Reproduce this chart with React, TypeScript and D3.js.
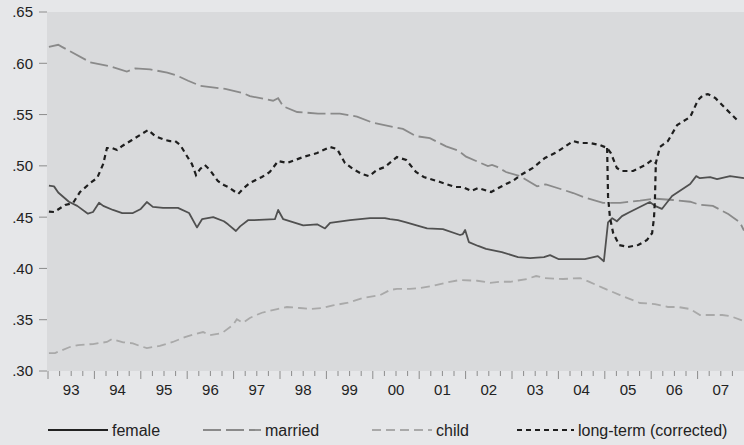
import React from "react";
import * as d3 from "d3";

const W = 744;
const H = 445;

const yTicks = [0.3, 0.35, 0.4, 0.45, 0.5, 0.55, 0.6, 0.65];
const yTickLabels = [".30", ".35", ".40", ".45", ".50", ".55", ".60", ".65"];
const years = [1993, 1994, 1995, 1996, 1997, 1998, 1999, 2000, 2001, 2002, 2003, 2004, 2005, 2006, 2007];
const yearLabels = ["93", "94", "95", "96", "97", "98", "99", "00", "01", "02", "03", "04", "05", "06", "07"];

const female: [number, number][] = [
  [1993.02, 0.4807], [1993.13, 0.48], [1993.22, 0.474], [1993.45, 0.465], [1993.63, 0.461],
  [1993.86, 0.4534], [1993.97, 0.455], [1994.1, 0.464], [1994.19, 0.461], [1994.4, 0.457],
  [1994.6, 0.454], [1994.83, 0.454], [1995.0, 0.458], [1995.13, 0.4647], [1995.26, 0.46],
  [1995.48, 0.459], [1995.8, 0.459], [1996.04, 0.454], [1996.21, 0.44], [1996.32, 0.448],
  [1996.56, 0.45], [1996.79, 0.446], [1996.88, 0.443], [1997.05, 0.4365], [1997.14, 0.441],
  [1997.31, 0.447], [1997.42, 0.447], [1997.89, 0.448], [1997.96, 0.457], [1998.07, 0.448],
  [1998.5, 0.442], [1998.8, 0.443], [1998.97, 0.439], [1999.08, 0.4445], [1999.51, 0.447],
  [1999.94, 0.449], [2000.26, 0.449], [2000.37, 0.448], [2000.54, 0.447], [2000.72, 0.445],
  [2001.0, 0.4413], [2001.17, 0.439], [2001.51, 0.4384], [2001.88, 0.4326], [2001.94, 0.4335],
  [2001.99, 0.4375], [2002.07, 0.4257], [2002.27, 0.4219], [2002.44, 0.419], [2002.78, 0.416],
  [2003.13, 0.411], [2003.39, 0.41], [2003.69, 0.411], [2003.82, 0.413], [2004.01, 0.409],
  [2004.38, 0.409], [2004.57, 0.409], [2004.85, 0.412], [2004.98, 0.407], [2005.07, 0.445],
  [2005.16, 0.449], [2005.26, 0.446], [2005.37, 0.451], [2005.54, 0.455], [2005.97, 0.4647],
  [2006.08, 0.461], [2006.23, 0.458], [2006.45, 0.4706], [2006.84, 0.4823], [2006.97, 0.49],
  [2007.05, 0.488], [2007.27, 0.489], [2007.42, 0.487], [2007.7, 0.49], [2008.0, 0.488],
];

const married: [number, number][] = [
  [1993.02, 0.616], [1993.22, 0.618], [1993.3, 0.616], [1993.91, 0.601], [1994.34, 0.597],
  [1994.7, 0.592], [1994.88, 0.595], [1995.2, 0.594], [1995.57, 0.591], [1995.78, 0.588],
  [1996.02, 0.583], [1996.28, 0.578], [1996.82, 0.575], [1997.2, 0.571], [1997.35, 0.568],
  [1997.85, 0.5635], [1997.96, 0.566], [1998.07, 0.558], [1998.37, 0.5525], [1998.82, 0.551],
  [1999.29, 0.551], [1999.66, 0.548], [2000.0, 0.542], [2000.44, 0.538], [2000.65, 0.536],
  [2000.93, 0.529], [2001.23, 0.527], [2001.58, 0.519], [2001.84, 0.515], [2002.01, 0.509],
  [2002.48, 0.4998], [2002.57, 0.501], [2002.68, 0.499], [2002.87, 0.494], [2003.17, 0.49],
  [2003.54, 0.48], [2003.73, 0.482], [2004.32, 0.4735], [2004.53, 0.4697], [2004.96, 0.464],
  [2005.33, 0.464], [2005.76, 0.466], [2006.08, 0.468], [2006.47, 0.4667], [2006.84, 0.465],
  [2007.05, 0.462], [2007.33, 0.461], [2007.66, 0.453], [2007.91, 0.445], [2008.0, 0.437],
];

const child: [number, number][] = [
  [1993.02, 0.3175], [1993.15, 0.3175], [1993.47, 0.3234], [1993.65, 0.3253], [1993.97, 0.3263],
  [1994.27, 0.3283], [1994.38, 0.3312], [1994.62, 0.328], [1994.83, 0.327], [1994.98, 0.3244],
  [1995.13, 0.3224], [1995.41, 0.3244], [1995.69, 0.3283], [1995.95, 0.333], [1996.17, 0.336],
  [1996.34, 0.338], [1996.49, 0.335], [1996.75, 0.337], [1996.99, 0.345], [1997.07, 0.3505],
  [1997.2, 0.347], [1997.35, 0.3517], [1997.46, 0.354], [1997.61, 0.3568], [1997.94, 0.3604],
  [1998.15, 0.3624], [1998.43, 0.3614], [1998.65, 0.3604], [1998.91, 0.3614], [1999.14, 0.364],
  [1999.44, 0.3663], [1999.79, 0.3712], [2000.16, 0.374], [2000.37, 0.379], [2000.52, 0.38],
  [2000.8, 0.38], [2001.02, 0.381], [2001.3, 0.383], [2001.66, 0.387], [2001.88, 0.3887],
  [2002.25, 0.388], [2002.53, 0.386], [2002.74, 0.387], [2002.96, 0.387], [2003.32, 0.3897],
  [2003.52, 0.3926], [2003.71, 0.3906], [2004.1, 0.3897], [2004.47, 0.3906], [2004.68, 0.3867],
  [2004.96, 0.381], [2005.33, 0.374], [2005.76, 0.3663], [2006.08, 0.3653], [2006.36, 0.3624],
  [2006.58, 0.3624], [2006.84, 0.3604], [2007.05, 0.3546], [2007.53, 0.3546], [2007.7, 0.3536],
  [2008.0, 0.3487],
];

const longTerm: [number, number][] = [
  [1993.02, 0.4553], [1993.13, 0.455], [1993.37, 0.4618], [1993.54, 0.4638], [1993.69, 0.4745],
  [1993.91, 0.4833], [1994.06, 0.4882], [1994.19, 0.5018], [1994.27, 0.5174], [1994.38, 0.5174],
  [1994.49, 0.5155], [1994.6, 0.5194], [1994.81, 0.5252], [1995.05, 0.532], [1995.16, 0.535],
  [1995.31, 0.529], [1995.52, 0.5252], [1995.63, 0.5242], [1995.74, 0.5242], [1995.85, 0.5203],
  [1996.02, 0.5077], [1996.1, 0.502], [1996.19, 0.491], [1996.28, 0.497], [1996.38, 0.5008],
  [1996.49, 0.496], [1996.66, 0.4852], [1996.79, 0.4813], [1996.88, 0.4794], [1997.1, 0.4726],
  [1997.2, 0.4775], [1997.35, 0.4833], [1997.61, 0.4891], [1997.78, 0.494], [1997.96, 0.5047],
  [1998.15, 0.5028], [1998.5, 0.5086], [1998.8, 0.5125], [1999.08, 0.5184], [1999.23, 0.5164],
  [1999.4, 0.5028], [1999.57, 0.497], [1999.77, 0.492], [1999.92, 0.49], [2000.09, 0.496],
  [2000.26, 0.4989], [2000.52, 0.5086], [2000.72, 0.5057], [2000.93, 0.494], [2001.1, 0.4891],
  [2001.45, 0.4843], [2001.77, 0.4794], [2001.94, 0.4794], [2002.12, 0.4755], [2002.27, 0.4784],
  [2002.55, 0.4745], [2002.87, 0.4823], [2003.02, 0.4852], [2003.19, 0.4911], [2003.45, 0.498],
  [2003.71, 0.5077], [2003.97, 0.5135], [2004.32, 0.5242], [2004.47, 0.5223], [2004.68, 0.5223],
  [2004.9, 0.5203], [2005.05, 0.5174], [2005.13, 0.5125], [2005.26, 0.4979], [2005.37, 0.495],
  [2005.61, 0.495], [2005.87, 0.5008], [2006.02, 0.5057], [2006.1, 0.5028], [2006.19, 0.5184],
  [2006.36, 0.5242], [2006.56, 0.5398], [2006.84, 0.5476], [2007.01, 0.5642], [2007.12, 0.569],
  [2007.22, 0.57], [2007.38, 0.5662], [2007.57, 0.5574], [2007.85, 0.5447],
];

const longTermCorrected: [number, number][] = [
  [2005.05, 0.5174], [2005.07, 0.47], [2005.11, 0.45], [2005.18, 0.4345], [2005.31, 0.4228],
  [2005.5, 0.4209], [2005.72, 0.4228], [2005.91, 0.4277], [2006.02, 0.4345], [2006.06, 0.4492],
  [2006.08, 0.4667], [2006.1, 0.5028],
];

const seriesNames = ["female", "married", "child", "long-term (corrected)"];

const styles = [
  { color: "#505050", dash: "", width: 1.8 },
  { color: "#8a8a8a", dash: "18,5", width: 1.8 },
  { color: "#a9a9a9", dash: "9,5", width: 1.8 },
  { color: "#1e1e1e", dash: "5,4", width: 2.2 },
];

const PL = 47, PR = 744, PT = 12, PB = 371;

export default function App() {
  const x = d3.scaleLinear().domain([1993, 2008]).range([48, 744]);
  const y = d3.scaleLinear().domain([0.3, 0.65]).range([PB, PT]);
  const line = d3
    .line<[number, number]>()
    .x((d) => x(d[0]))
    .y((d) => y(d[1]))
    .curve(d3.curveLinear);

  const quarters: number[] = [];
  for (let yr = 1993; yr < 2008; yr++) {
    for (let q = 0; q < 4; q++) quarters.push(yr + q / 4);
  }

  const font = "'Liberation Sans', Arial, sans-serif";
  const legendX = [48, 203, 372, 517];
  const legendLen = [60, 58, 60, 57];

  return (
    <svg width={W} height={H} style={{ display: "block", position: "absolute", left: 0, top: 0 }}>
      <rect x={0} y={0} width={W} height={H} fill="#e6e7e9" />
      <rect x={PL} y={PT} width={PR - PL} height={PB - PT} fill="#d9dadc" />

      {yTicks.map((t, i) => (
        <g key={"y" + i}>
          <line x1={39} x2={47} y1={y(t)} y2={y(t)} stroke="#8c8c8c" strokeWidth={1} />
          <text x={33} y={y(t)} dy="0.36em" textAnchor="end" fontFamily={font} fontSize={15} fill="#222">
            {yTickLabels[i]}
          </text>
        </g>
      ))}

      {quarters.map((q, i) => (
        <line
          key={"q" + i}
          x1={x(q)}
          x2={x(q)}
          y1={PB}
          y2={i % 4 === 0 ? PB + 8 : PB + 5}
          stroke="#8c8c8c"
          strokeWidth={1}
        />
      ))}
      {years.map((yr, i) => (
        <text
          key={"x" + i}
          x={x(yr + 0.5)}
          y={390}
          dy="0.36em"
          textAnchor="middle"
          fontFamily={font}
          fontSize={15}
          fill="#222"
        >
          {yearLabels[i]}
        </text>
      ))}

      <path d={line(child) || ""} fill="none" stroke={styles[2].color} strokeWidth={styles[2].width} strokeDasharray={styles[2].dash} />
      <path d={line(married) || ""} fill="none" stroke={styles[1].color} strokeWidth={styles[1].width} strokeDasharray={styles[1].dash} />
      <path d={line(female) || ""} fill="none" stroke={styles[0].color} strokeWidth={styles[0].width} strokeLinejoin="round" />
      <path d={line(longTerm) || ""} fill="none" stroke={styles[3].color} strokeWidth={styles[3].width} strokeDasharray={styles[3].dash} />
      <path d={line(longTermCorrected) || ""} fill="none" stroke={styles[3].color} strokeWidth={styles[3].width} strokeDasharray={styles[3].dash} />

      {seriesNames.map((name, i) => (
        <g key={"l" + i}>
          <line
            x1={legendX[i]}
            x2={legendX[i] + legendLen[i]}
            y1={430}
            y2={430}
            stroke={i === 0 ? "#222" : styles[i].color}
            strokeWidth={1.8}
            strokeDasharray={styles[i].dash}
          />
          <text x={legendX[i] + legendLen[i] + 4} y={430} dy="0.36em" fontFamily={font} fontSize={16} fill="#222">
            {name}
          </text>
        </g>
      ))}
    </svg>
  );
}
